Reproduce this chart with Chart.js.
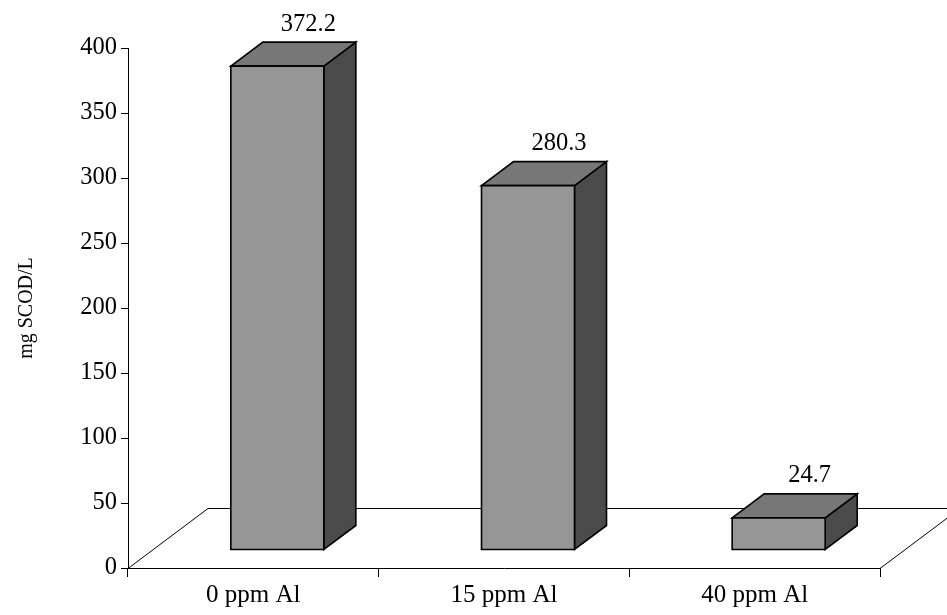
<!DOCTYPE html>
<html>
<head>
<meta charset="utf-8">
<script src="https://cdn.jsdelivr.net/npm/chart.js@4.4.0/dist/chart.umd.min.js"></script>
<style>
  html, body { margin: 0; padding: 0; background: #ffffff; }
  #wrap { width: 947px; height: 615px; }
</style>
</head>
<body>
<div id="wrap"><canvas id="c" width="947" height="615"></canvas></div>
<script>
const categories = ["0 ppm Al", "15 ppm Al", "40 ppm Al"];
const scodValues = [372.2, 280.3, 24.7];
const yTickValues = [0, 50, 100, 150, 200, 250, 300, 350, 400];
const yAxisTitle = "mg SCOD/L";

const FLOOR = { dx: 80, dy: -60 };
const FRONT = { dx: 24, dy: -18 };
const DEPTH = { dx: 32, dy: -24 };

const bar3d = {
  id: 'bar3d',
  beforeDatasetsDraw(chart) {
    const ctx = chart.ctx;
    const a = chart.chartArea;
    ctx.save();
    ctx.strokeStyle = '#000';
    ctx.lineWidth = 1;
    ctx.beginPath();
    ctx.moveTo(a.left, a.bottom + 0.5);
    ctx.lineTo(a.left + FLOOR.dx, a.bottom + FLOOR.dy + 0.5);
    ctx.lineTo(a.right + FLOOR.dx + 200, a.bottom + FLOOR.dy + 0.5);
    ctx.moveTo(a.right, a.bottom + 0.5);
    ctx.lineTo(a.right + FLOOR.dx, a.bottom + FLOOR.dy + 0.5);
    ctx.stroke();
    ctx.restore();
  },
  afterDatasetsDraw(chart) {
    const ctx = chart.ctx;
    const meta = chart.getDatasetMeta(0);
    ctx.save();
    ctx.lineJoin = 'miter';
    ctx.strokeStyle = '#000';
    ctx.lineWidth = 1.6;
    meta.data.forEach((el, i) => {
      const p = el.getProps(['x', 'y', 'base', 'width'], true);
      const l = p.x - p.width / 2 + FRONT.dx;
      const r = p.x + p.width / 2 + FRONT.dx;
      const t = p.y + FRONT.dy;
      const b = p.base + FRONT.dy;
      // side face
      ctx.beginPath();
      ctx.moveTo(r, t); ctx.lineTo(r + DEPTH.dx, t + DEPTH.dy);
      ctx.lineTo(r + DEPTH.dx, b + DEPTH.dy); ctx.lineTo(r, b); ctx.closePath();
      ctx.fillStyle = '#4b4b4b'; ctx.fill(); ctx.stroke();
      // top face
      ctx.beginPath();
      ctx.moveTo(l, t); ctx.lineTo(l + DEPTH.dx, t + DEPTH.dy);
      ctx.lineTo(r + DEPTH.dx, t + DEPTH.dy); ctx.lineTo(r, t); ctx.closePath();
      ctx.fillStyle = '#777777'; ctx.fill(); ctx.stroke();
      // front face
      ctx.beginPath();
      ctx.rect(l, t, r - l, b - t);
      ctx.fillStyle = '#969696'; ctx.fill(); ctx.stroke();
      // value label
      ctx.fillStyle = '#000';
      ctx.font = '24.5px "Liberation Serif"';
      ctx.textAlign = 'center';
      ctx.textBaseline = 'middle';
      const lx = (l + r) / 2 + DEPTH.dx - 1;
      const ly = t + DEPTH.dy - 18;
      ctx.fillText(scodValues[i].toFixed(1), lx, ly);
    });
    ctx.restore();
  }
};

Chart.defaults.font.family = '"Liberation Serif", "Times New Roman", serif';
Chart.defaults.color = '#000';

new Chart(document.getElementById('c'), {
  type: 'bar',
  data: {
    labels: categories,
    datasets: [{
      data: scodValues,
      backgroundColor: 'rgba(0,0,0,0)',
      borderWidth: 0,
      barPercentage: 0.371,
      categoryPercentage: 1
    }]
  },
  options: {
    responsive: false,
    animation: false,
    events: [],
    layout: { padding: { top: 48, right: 67, bottom: 0, left: 0 } },
    plugins: { legend: { display: false }, tooltip: { enabled: false } },
    scales: {
      x: {
        offset: true,
        grid: { display: true, drawOnChartArea: false, drawTicks: true, tickLength: 9, color: '#000', offset: true, lineWidth: 1 },
        border: { display: true, color: '#000', width: 1 },
        ticks: { font: { size: 25 }, padding: 3, maxRotation: 0, autoSkip: false },
        afterFit(s) { s.height = 47; }
      },
      y: {
        min: 0, max: 400,
        afterBuildTicks(s) { s.ticks = yTickValues.map(v => ({ value: v })); },
        grid: { display: true, drawOnChartArea: false, drawTicks: true, tickLength: 7, color: '#000', lineWidth: 1 },
        border: { display: true, color: '#000', width: 1 },
        ticks: { font: { size: 24.5 }, padding: 4 },
        title: { display: true, text: yAxisTitle, font: { size: 20 }, padding: { top: 15, bottom: 0 } },
        afterFit(s) { s.width = 128; }
      }
    }
  },
  plugins: [bar3d]
});
</script>
</body>
</html>
